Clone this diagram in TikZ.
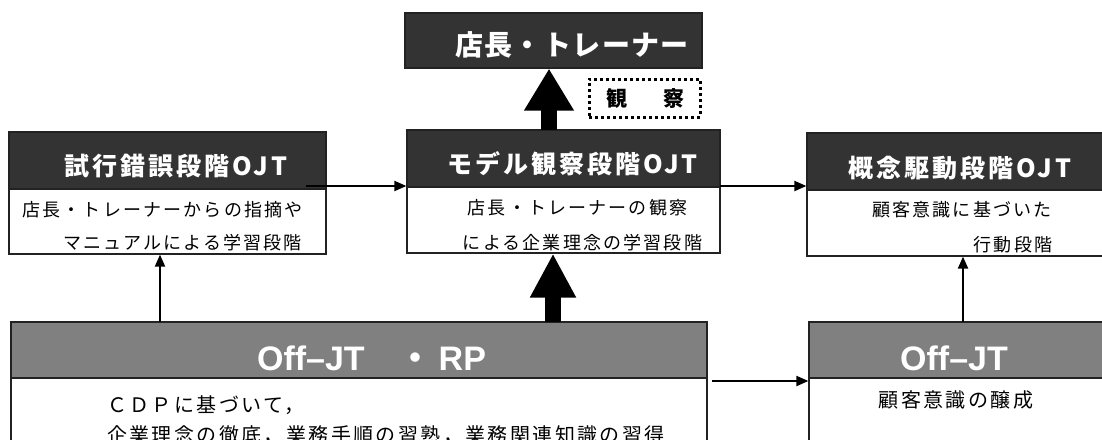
\documentclass[tikz,border=0pt]{standalone}
\usepackage{fontspec}
\usetikzlibrary{arrows.meta}
\newfontfamily\jphead[LetterSpace=12]{Noto Sans CJK JP}
\newfontfamily\jptop[LetterSpace=5]{Noto Sans CJK JP}
\newfontfamily\jpbody[LetterSpace=12]{Noto Sans CJK JP}
\newfontfamily\jpplain{Noto Sans CJK JP}
\newfontfamily\arialish{Liberation Sans}
\definecolor{darkhead}{HTML}{333333}
\definecolor{grayhead}{HTML}{808080}
\definecolor{boxline}{HTML}{222222}
\tikzset{
  darkbox/.style={draw=boxline, line width=1.2pt, fill=darkhead, inner sep=0pt},
  graybox/.style={draw=boxline, line width=1.2pt, fill=grayhead, inner sep=0pt},
  bodybox/.style={draw=boxline, line width=1.2pt, fill=white, inner sep=0pt},
  headtext/.style={inner sep=0pt, text=white, font=\jphead\bfseries\fontsize{25}{25}\selectfont},
  offtext/.style={inner sep=0pt, text=white, font=\arialish\bfseries\fontsize{34}{34}\selectfont},
  bodytext/.style={inner sep=0pt, text=black, font=\jpbody\fontsize{18}{18}\selectfont},
  bigbodytext/.style={inner sep=0pt, text=black, font=\jpbody\fontsize{20}{20}\selectfont},
  thinarrow/.style={line width=2pt, -{Triangle[length=12pt,width=10pt]}},
  bigarrow/.style={line width=16pt, -{Triangle[length=42pt,width=47pt]}},
}
\begin{document}
\begin{tikzpicture}[x=1pt,y=-1pt]
\useasboundingbox (0,0) rectangle (1102,439);
\fill[white] (0,0) rectangle (1102,439);
% top box
\node[darkbox, minimum width=297pt, minimum height=55pt] (top) at (553.5,40.5) {};
\node[inner sep=0pt, text=white, font=\jptop\bfseries\fontsize{28}{28}\selectfont] (toptext) at (572,45) {店長・トレーナー};
% observation dotted box
\node[draw=black, line width=3pt, dash pattern=on 3pt off 3pt, minimum width=111pt, minimum height=38pt, inner sep=0pt] (obs) at (644.5,98) {};
\node[inner sep=0pt, font=\jpplain\bfseries\fontsize{21}{21}\selectfont] (obstext) at (645,98) {観\hspace{36pt}察};
% left box
\node[darkbox, minimum width=317pt, minimum height=57pt] (lh) at (167.5,160.5) {};
\node[bodybox, minimum width=317pt, minimum height=65pt] (lb) at (167.5,221.5) {};
\node[headtext] (lht) at (176,166) {試行錯誤段階OJT};
\node[bodytext] (lb1) at (162.5,210) {店長・トレーナーからの指摘や};
\node[bodytext] (lb2) at (182.5,243) {マニュアルによる学習段階};
% model box
\node[darkbox, minimum width=313pt, minimum height=57pt] (mh) at (563.5,158.5) {};
\node[bodybox, minimum width=313pt, minimum height=66pt] (mb) at (563.5,220) {};
\node[headtext] (mht) at (572.5,164) {モデル観察段階OJT};
\node[bodytext] (mb1) at (577.5,208) {店長・トレーナーの観察};
\node[bodytext] (mb2) at (582.5,243) {による企業理念の学習段階};
% right box
\node[darkbox, minimum width=308pt, minimum height=57pt] (rh) at (961,161.5) {};
\node[bodybox, minimum width=308pt, minimum height=66pt] (rb) at (961,223) {};
\node[headtext] (rht) at (960,168) {概念駆動段階OJT};
\node[bodytext] (rb1) at (962,210) {顧客意識に基づいた};
\node[bodytext] (rb2) at (1013,245) {行動段階};
% Off-JT RP box
\node[graybox, minimum width=696pt, minimum height=56pt] (rph) at (359,350) {};
\node[bodybox, minimum width=696pt, minimum height=92pt] (rpb) at (359,424) {};
\node[offtext] (rpht) at (371.5,358) {Off–JT\hspace{34pt}{\jpplain ・}\hspace{6pt}RP};
\node[bigbodytext, anchor=west] (rpb1) at (107,405) {ＣＤＰに基づいて，};
\node[bigbodytext, anchor=west] (rpb2) at (107,435) {企業理念の徹底，業務手順の習熟，業務関連知識の習得};
% Off-JT box
\node[graybox, minimum width=306pt, minimum height=56pt] (oh) at (962,350) {};
\node[bodybox, minimum width=306pt, minimum height=92pt] (ob) at (962,424) {};
\node[offtext] (oht) at (954,358) {Off–JT};
\node[bigbodytext] (ob1) at (956,400) {顧客意識の醸成};
% connectors
\coordinate (a1s) at (306,186);
\draw[thinarrow] (a1s) -- (a1s -| mh.west);
\coordinate (a2s) at (720,186);
\draw[thinarrow] (a2s) -- (a2s -| rh.west);
\coordinate (a3s) at (712,381);
\draw[thinarrow] (a3s) -- (a3s -| oh.west);
\coordinate (v1) at (160,322);
\draw[thinarrow] (v1) -- (v1 |- lb.south);
\coordinate (v2) at (963,322);
\draw[thinarrow] (v2) -- (v2 |- rb.south);
\coordinate (t1) at (549,130);
\draw[bigarrow] (t1) -- (t1 |- top.south);
\coordinate (t2) at (553,322);
\draw[bigarrow, -{Triangle[length=44pt,width=43pt]}] (t2) -- (t2 |- mb.south);
\end{tikzpicture}
\end{document}
